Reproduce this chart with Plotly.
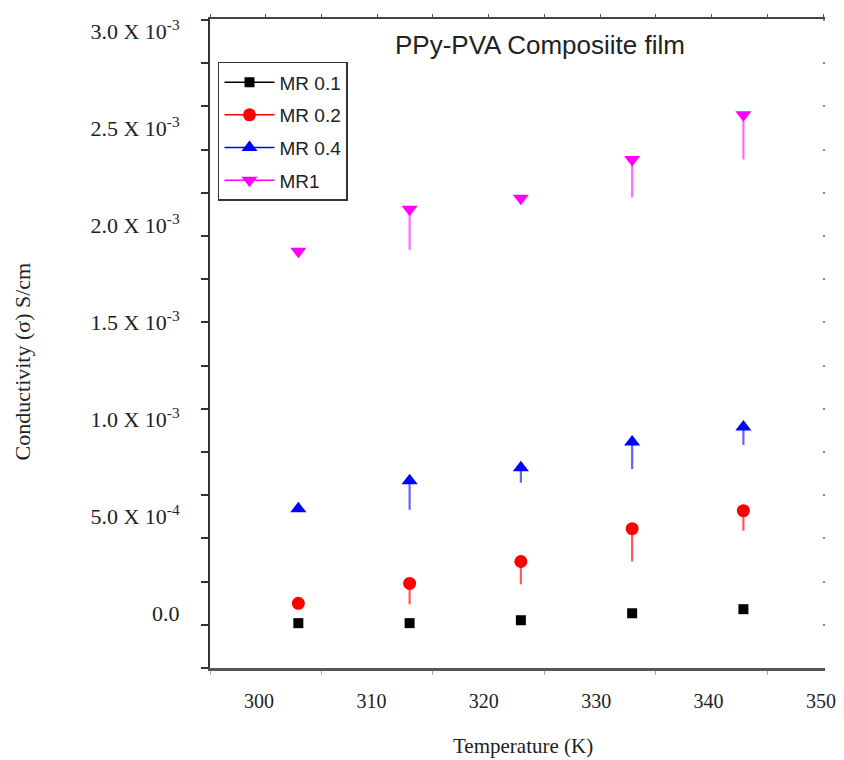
import plotly.graph_objects as go

# ---- data ----
temperature = [303.5, 313.4, 323.3, 333.2, 343.1]  # K

series_names = ["MR 0.1", "MR 0.2", "MR 0.4", "MR1"]

mr01 = [-5.1e-5, -5.1e-5, -3.6e-5, 0.0, 2.1e-5]
mr01_err = [0, 0, 0, 0, 0]

mr02 = [5.1e-5, 1.54e-4, 2.67e-4, 4.36e-4, 5.29e-4]
mr02_err = [0, 1.08e-4, 1.18e-4, 1.69e-4, 1.03e-4]

mr04 = [5.39e-4, 6.83e-4, 7.50e-4, 8.83e-4, 9.60e-4]
mr04_err = [0, 1.49e-4, 0.77e-4, 1.39e-4, 0.92e-4]

mr1 = [1.867e-3, 2.084e-3, 2.140e-3, 2.340e-3, 2.571e-3]
mr1_err = [0, 2.10e-4, 0, 1.95e-4, 2.31e-4]

y_tickvals = [0.0, 5e-4, 1e-3, 1.5e-3, 2e-3, 2.5e-3, 3e-3]
y_ticktext = ["0.0", "5.0 X 10<sup>-4</sup>", "1.0 X 10<sup>-3</sup>",
              "1.5 X 10<sup>-3</sup>", "2.0 X 10<sup>-3</sup>",
              "2.5 X 10<sup>-3</sup>", "3.0 X 10<sup>-3</sup>"]
x_tickvals = [300, 310, 320, 330, 340, 350]

# ---- styling ----
serif = "Liberation Serif, Times New Roman, serif"
sans = "Liberation Sans, Arial, sans-serif"

styles = [
    dict(symbol="square", color="#000000", err="#444444", size=10),
    dict(symbol="circle", color="#ff0000", err="rgba(255,60,60,0.85)", size=13),
    dict(symbol="triangle-up", color="#0000ff", err="rgba(70,70,255,0.85)", size=14),
    dict(symbol="triangle-down", color="#ff00ff", err="rgba(255,80,255,0.85)", size=14),
]
values = [mr01, mr02, mr04, mr1]
errors = [mr01_err, mr02_err, mr04_err, mr1_err]

fig = go.Figure()
for name, vals, errs, st in zip(series_names, values, errors, styles):
    fig.add_trace(go.Scatter(
        x=temperature, y=vals, mode="markers", name=name, showlegend=False,
        marker=dict(symbol=st["symbol"], color=st["color"], size=st["size"]),
        error_y=dict(type="data", symmetric=False, array=[0] * len(errs),
                     arrayminus=errs, color=st["err"], thickness=2.2, width=0),
    ))
# legend entries (line + marker sample)
for i, (name, st) in enumerate(zip(series_names, styles)):
    fig.add_trace(go.Scatter(
        x=[None], y=[None], mode="lines+markers", name=name,
        legendgroup=f"g{i}",
        line=dict(color=st["color"], width=1.5),
        marker=dict(symbol=st["symbol"], color=st["color"], size=st["size"]),
    ))

x_range = [295.64, 350.36]
y_range = [-2.823e-4, 3.0647e-3]

# the page body adds an 8px offset, so the figure is 8px smaller and shifted
fig.update_layout(
    width=836, height=752,
    margin=dict(l=202, r=19, t=8, b=92),
    paper_bgcolor="white", plot_bgcolor="white",
    showlegend=True,
    legend=dict(
        x=0.013, y=(668 - 59) / 652, xanchor="left", yanchor="top",
        bordercolor="#333333", borderwidth=1.5, bgcolor="white",
        font=dict(family=sans, size=19, color="#222222"),
        tracegroupgap=5, itemwidth=50,
    ),
    xaxis=dict(
        range=x_range, showgrid=False, zeroline=False,
        showline=True, linecolor="#555555", linewidth=2.5,
        tickmode="array", tickvals=x_tickvals,
        ticks="", ticklabelstandoff=13,
        tickfont=dict(family=serif, size=20, color="#222222"),
        minor=dict(ticks="outside", ticklen=4, tickwidth=1, tickcolor="#aaaaaa",
                   tickmode="linear", tick0=295.64, dtick=9.92),
    ),
    xaxis2=dict(
        range=x_range, overlaying="x", side="top", showgrid=False, zeroline=False,
        showline=True, linecolor="#444444", linewidth=2,
        ticks="outside", ticklen=3, tickwidth=1, tickcolor="#555555",
        tickmode="linear", tick0=295.64, dtick=4.96, showticklabels=False,
    ),
    yaxis=dict(
        range=y_range, showgrid=False, zeroline=False,
        showline=True, linecolor="#333333", linewidth=2,
        tickmode="array", tickvals=y_tickvals, ticktext=y_ticktext,
        ticks="", ticklabelstandoff=24,
        tickfont=dict(family=serif, size=22, color="#222222"),
        minor=dict(ticks="outside", ticklen=7, tickwidth=1.5, tickcolor="#333333",
                   tickmode="linear", tick0=3.0595e-3, dtick=2.228e-4),
    ),
    yaxis2=dict(
        range=y_range, overlaying="y", side="right", showgrid=False, zeroline=False,
        showline=False, ticks="inside", ticklen=2, tickwidth=1.5, tickcolor="#888888",
        tickmode="linear", tick0=3.0595e-3, dtick=2.228e-4, showticklabels=False,
    ),
    annotations=[
        dict(text="PPy-PVA Composiite film", xref="paper", yref="paper",
             x=(540 - 210) / 615, y=(668 - 42) / 652, showarrow=False,
             xanchor="center", yanchor="middle",
             font=dict(family=sans, size=26, color="#222222")),
        dict(text="Conductivity (σ) S/cm", xref="paper", yref="paper",
             x=(22 - 210) / 615, y=(668 - 360) / 652, showarrow=False,
             xanchor="center", yanchor="middle", textangle=-90,
             font=dict(family=serif, size=22, color="#222222")),
        dict(text="Temperature (K)", xref="paper", yref="paper",
             x=(523 - 210) / 615, y=(668 - 746) / 652, showarrow=False,
             xanchor="center", yanchor="middle",
             font=dict(family=serif, size=21, color="#222222")),
    ],
)
# dummy trace on the overlay axes so they render
fig.add_trace(go.Scatter(x=[None], y=[None], xaxis="x2", yaxis="y2",
                         showlegend=False, hoverinfo="skip"))

fig.write_html("out.html")
